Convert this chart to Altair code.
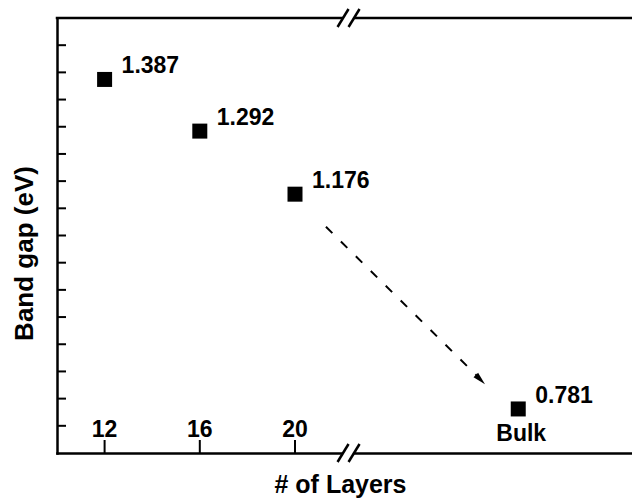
import altair as alt
import pandas as pd

# Band gap versus number of layers (bulk shown past the axis break)
layer_labels = ["12", "16", "20", "Bulk"]
layer_pos = [12, 16, 20, 29.38]          # position on the broken x axis
band_gap = [1.387, 1.292, 1.176, 0.781]  # eV
value_text = ["1.387", "1.292", "1.176", "0.781"]

# inward tick marks
y_ticks = [0.75, 0.80, 0.85, 0.90, 0.95, 1.00, 1.05, 1.10, 1.15, 1.20,
           1.25, 1.30, 1.35, 1.40, 1.45]
x_ticks = [12, 16, 20]

# axis break location and the dashed trend arrow
break_x = 22.25
arrow_x = [21.30, 27.62]
arrow_y = [1.116, 0.843]
head_x = [27.79]
head_y = [0.835]

W, H = 575, 435
FONT = "Liberation Sans"

xs = alt.Scale(domain=[10, 10 + W / 23.8], nice=False, zero=False)
ys = alt.Scale(domain=[0.7, 1.5], nice=False, zero=False)

points = pd.DataFrame({"pos": layer_pos, "gap": band_gap, "txt": value_text,
                       "lab": layer_labels})

base = alt.Chart(points)

xaxis = alt.Axis(title="# of Layers", labels=False, ticks=False, grid=False,
                 domainColor="black", domainWidth=2.5, domainCap="square",
                 titleFont=FONT, titleFontSize=25, titleFontWeight="bold",
                 titleColor="black", titleX=283, titleY=39,
                 titleBaseline="alphabetic", titleAlign="center")
yaxis = alt.Axis(title="Band gap (eV)", labels=False, ticks=False, grid=False,
                 domainColor="black", domainWidth=2.5, domainCap="square",
                 titleFont=FONT, titleFontSize=26, titleFontWeight="bold",
                 titleColor="black", titleAngle=270, titleX=-33, titleY=235,
                 titleBaseline="middle", titleAlign="center")

squares = base.mark_square(size=225, color="black", opacity=1).encode(
    x=alt.X("pos:Q", scale=xs, axis=xaxis),
    y=alt.Y("gap:Q", scale=ys, axis=yaxis),
)

values = base.mark_text(font=FONT, fontSize=23, fontWeight="bold",
                        color="black", align="left", baseline="middle",
                        dx=17, dy=-13).encode(
    x=alt.X("pos:Q", scale=xs), y=alt.Y("gap:Q", scale=ys), text="txt:N")

tick_lab = alt.Chart(points.iloc[:3]).mark_text(
    font=FONT, fontSize=23, fontWeight="bold", color="black",
    align="center", baseline="middle").encode(
    x=alt.X("pos:Q", scale=xs), y=alt.value(412), text="lab:N")

bulk_lab = alt.Chart(points.iloc[3:]).mark_text(
    font=FONT, fontSize=23, fontWeight="bold", color="black",
    align="center", baseline="middle", dx=3).encode(
    x=alt.X("pos:Q", scale=xs), y=alt.value(416), text="lab:N")

xt = alt.Chart(pd.DataFrame({"t": x_ticks})).mark_rule(
    color="black", strokeWidth=2).encode(
    x=alt.X("t:Q", scale=xs), y=alt.value(H), y2=alt.value(H - 13))

yt = alt.Chart(pd.DataFrame({"t": y_ticks})).mark_rule(
    color="black", strokeWidth=2).encode(
    y=alt.Y("t:Q", scale=ys), x=alt.value(0), x2=alt.value(9))

top_line = alt.Chart(points.iloc[:1]).mark_rule(
    color="black", strokeWidth=2.5, strokeCap="square").encode(
    x=alt.value(0), x2=alt.value(W), y=alt.value(0))

brk = pd.DataFrame({"b": [break_x]})
layers_brk = []
for yline in (0, H):
    layers_brk.append(alt.Chart(brk).mark_rule(
        color="white", strokeWidth=5, xOffset=-5.5, x2Offset=5.5).encode(
        x=alt.X("b:Q", scale=xs), x2="b:Q", y=alt.value(yline)))
    for x0, x1 in ((-11, 0), (0, 11)):
        layers_brk.append(alt.Chart(brk).mark_rule(
            color="black", strokeWidth=2.5, xOffset=x0, x2Offset=x1).encode(
            x=alt.X("b:Q", scale=xs), x2="b:Q",
            y=alt.value(yline + 9), y2=alt.value(yline - 9)))

arrow = alt.Chart(pd.DataFrame({"ax": arrow_x, "ay": arrow_y})).mark_line(
    color="black", strokeWidth=2, strokeDash=[9, 12]).encode(
    x=alt.X("ax:Q", scale=xs), y=alt.Y("ay:Q", scale=ys))

head = alt.Chart(pd.DataFrame({"hx": head_x, "hy": head_y})).mark_point(
    shape="M0,-1L0.5,1L-0.5,1Z", size=169, angle=135, filled=True,
    color="black", opacity=1, strokeWidth=0).encode(
    x=alt.X("hx:Q", scale=xs), y=alt.Y("hy:Q", scale=ys))

chart = alt.layer(
    squares, values, tick_lab, bulk_lab, xt, yt, top_line, *layers_brk,
    arrow, head,
).properties(
    width=W, height=H,
    autosize=alt.AutoSizeParams(type="none"),
    padding={"left": 57, "top": 18, "right": 0, "bottom": 50},
    background="white",
).configure_view(stroke="transparent")

chart.save("out.html", embed_options={"renderer": "svg", "actions": False})
